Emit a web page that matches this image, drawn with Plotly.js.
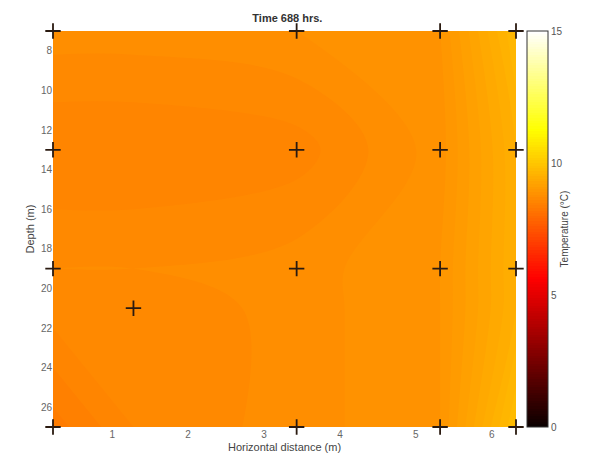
<!DOCTYPE html>
<html>
<head>
<meta charset="utf-8">
<script src="https://cdn.plot.ly/plotly-3.0.1.min.js"></script>
<style>body{margin:0;background:#fff}#chart{width:595px;height:472px}</style>
</head>
<body>
<div id="chart"></div>
<script>
// Grid of horizontal distance (m) and depth (m)
const gridX = [0.22, 1.28, 3.43, 5.32, 6.32];
const gridDepth = [7, 13, 19, 21, 27];
// Temperature (°C) per depth row
const temp07 = [8.75, 8.75, 8.8, 8.9, 9.7];
const temp13 = [8.5, 8.5, 8.55, 8.85, 9.5];
const temp19 = [8.7, 8.7, 8.75, 8.9, 9.5];
const temp21 = [8.65, 8.6, 8.75, 8.9, 9.5];
const temp27 = [8.35, 8.6, 8.75, 8.9, 9.8];
// Sensor locations
const sensorX = [0.22, 3.43, 5.32, 6.32, 0.22, 3.43, 5.32, 6.32, 0.22, 3.43, 5.32, 6.32, 1.28, 0.22, 3.43, 5.32, 6.32];
const sensorDepth = [7, 7, 7, 7, 13, 13, 13, 13, 19, 19, 19, 19, 21, 27, 27, 27, 27];
const xTicks = [1, 2, 3, 4, 5, 6];
const yTicks = [8, 10, 12, 14, 16, 18, 20, 22, 24, 26];
const cbTicks = [0, 5, 10, 15];

const hot = [[0, 'rgb(10,0,0)'], [0.375, 'rgb(255,0,0)'], [0.75, 'rgb(255,255,0)'], [1, 'rgb(255,255,255)']];

const traces = [
  {
    type: 'contour',
    x: gridX, y: gridDepth,
    z: [temp07, temp13, temp19, temp21, temp27],
    colorscale: hot, zmin: 0, zmax: 15,
    autocontour: false,
    contours: {start: 0, end: 15, size: 0.1, coloring: 'fill', showlines: false},
    line: {width: 0},
    colorbar: {
      x: 1.024, xanchor: 'left', y: 0.5, len: 1, lenmode: 'fraction',
      thickness: 21, thicknessmode: 'pixels',
      outlinecolor: '#333', outlinewidth: 1,
      tickvals: cbTicks, ticks: '', ticklen: 3,
      tickfont: {family: 'Liberation Sans, Arial', size: 10, color: '#555'},
      title: {text: 'Temperature (°C)', side: 'right', font: {family: 'Liberation Sans, Arial', size: 10, color: '#444'}},
      ypad: 0, xpad: 0
    },
    hoverinfo: 'skip'
  },
  {
    type: 'scatter', mode: 'markers',
    x: sensorX, y: sensorDepth,
    marker: {symbol: 'cross-thin', size: 11, line: {width: 1.8, color: '#2a1a10'}},
    cliponaxis: false, showlegend: false
  }
];

const layout = {
  width: 595, height: 472,
  margin: {l: 53, r: 79, t: 31, b: 45},
  paper_bgcolor: '#fff', plot_bgcolor: '#fff',
  title: {text: '<b>Time 688 hrs.</b>', x: 0.483, xanchor: 'center', y: 0.962, yanchor: 'middle',
          font: {family: 'Liberation Sans, Arial', size: 11, color: '#333'}},
  xaxis: {
    range: [0.22, 6.32], tickvals: xTicks, showgrid: false, zeroline: false,
    ticks: '', showline: false,
    tickfont: {family: 'Liberation Sans, Arial', size: 10, color: '#666'},
    title: {text: 'Horizontal distance (m)', standoff: 4, font: {family: 'Liberation Sans, Arial', size: 11, color: '#444'}}
  },
  yaxis: {
    range: [27, 7], tickvals: yTicks, showgrid: false, zeroline: false,
    ticks: '', showline: false,
    tickfont: {family: 'Liberation Sans, Arial', size: 10, color: '#666'},
    title: {text: 'Depth (m)', standoff: 4, font: {family: 'Liberation Sans, Arial', size: 11, color: '#444'}}
  },
  showlegend: false
};

Plotly.newPlot('chart', traces, layout, {displayModeBar: false, staticPlot: true});
</script>
</body>
</html>
